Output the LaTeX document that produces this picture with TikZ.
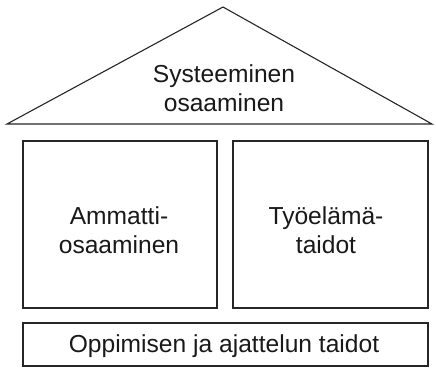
\documentclass[tikz,border=0pt]{standalone}
\usepackage{fontspec}
\setmainfont{Liberation Sans}
\begin{document}
\begin{tikzpicture}[x=1pt,y=-1pt,
  part/.style={draw=black!85,line width=1.1pt},
  lbl/.style={align=center,font=\fontsize{24.6}{28.5}\selectfont,text=black!90,inner sep=0pt}]
\useasboundingbox (0,0) rectangle (436,376);
\coordinate (apex) at (223,7);
\coordinate (bl) at (7,124);
\coordinate (br) at (432,124);
\draw[part,line join=miter] (bl) -- (apex) -- (br) -- cycle;
\node[lbl] (roof) at (224,88) {Systeeminen\\osaaminen};
\draw[part] (23,141) rectangle (217,308);
\node[lbl] (amm) at (119,230) {Ammatti-\\osaaminen};
\draw[part] (233,141) rectangle (428,308);
\node[lbl] (tyo) at (326,230) {Työelämä-\\taidot};
\draw[part] (23,323) rectangle (428,366);
\node[lbl] (opp) at (224,346) {Oppimisen ja ajattelun taidot};
\end{tikzpicture}
\end{document}
